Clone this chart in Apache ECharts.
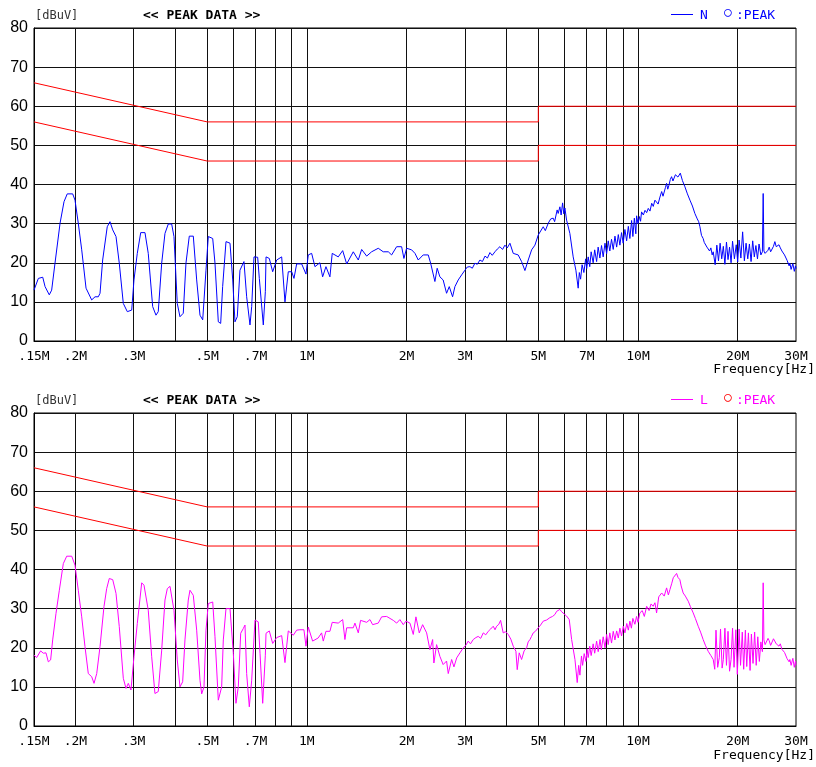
<!DOCTYPE html>
<html><head><meta charset="utf-8">
<script src="https://cdn.jsdelivr.net/npm/echarts@6/dist/echarts.min.js"></script>
<style>html,body{margin:0;padding:0;background:#fff}#c{width:816px;height:767px}</style>
</head><body><div id="c"></div>
<script>
// grid line frequencies (MHz) and labelled ticks
const gridFreqs = [0.2,0.3,0.4,0.5,0.6,0.7,0.8,0.9,1,2,3,4,5,6,7,8,9,10,20];
const tickFreqs = [0.15,0.2,0.3,0.5,0.7,1,2,3,5,7,10,20,30];
const yTicks = [0,10,20,30,40,50,60,70,80];
// limit lines
const limFreq = [0.15,0.5,5,5,30];
const qpLevel = [66,56,56,60,60];
const avLevel = [56,46,46,50,50];

// N trace [MHz, dBuV]
const nTrace = [[0.150,13.0],[0.1546,16.0],[0.1594,16.3],[0.162,13.9],[0.1668,11.8],[0.1696,13.0],[0.1736,19.9],[0.1798,30.1],[0.1848,35.6],[0.189,37.6],[0.1963,37.6],[0.1995,36.0],[0.2041,30.1],[0.209,23.3],[0.2154,13.5],[0.224,10.5],[0.2293,11.3],[0.2346,11.3],[0.2374,12.2],[0.2418,20.7],[0.2496,29.2],[0.2544,30.5],[0.2593,28.4],[0.2653,26.7],[0.2714,19.9],[0.2791,9.6],[0.287,7.5],[0.2959,7.9],[0.3006,15.6],[0.3076,22.4],[0.315,27.7],[0.3245,27.7],[0.332,22.4],[0.3423,8.8],[0.3503,6.6],[0.3559,7.5],[0.3645,19.9],[0.3729,27.5],[0.3816,29.9],[0.3907,29.9],[0.397,26.7],[0.4062,9.6],[0.4139,6.2],[0.4235,7.1],[0.4315,19.9],[0.4416,26.8],[0.4541,26.8],[0.4649,15.6],[0.4757,6.6],[0.4848,5.4],[0.496,18.1],[0.504,26.7],[0.5197,26.2],[0.528,19.9],[0.5403,4.9],[0.5493,4.5],[0.5569,13.9],[0.570,25.4],[0.5861,25.0],[0.5973,15.6],[0.6067,4.9],[0.6165,6.2],[0.6282,18.1],[0.6458,20.3],[0.6581,11.3],[0.6735,4.1],[0.6815,8.8],[0.6925,21.5],[0.7105,21.4],[0.7186,16.0],[0.7256,15.6],[0.7388,4.1],[0.7493,12.6],[0.7529,21.5],[0.7703,21.1],[0.7886,17.7],[0.8109,20.7],[0.8395,21.5],[0.859,10.0],[0.879,17.7],[0.9,17.7],[0.9144,16.0],[0.9317,19.7],[0.9647,19.7],[0.994,17.1],[1.01,22.0],[1.034,22.4],[1.058,19.0],[1.095,20.0],[1.116,16.4],[1.142,19.0],[1.174,16.4],[1.193,22.4],[1.244,21.5],[1.283,23.1],[1.319,19.7],[1.381,22.8],[1.43,20.7],[1.464,23.4],[1.516,21.7],[1.569,22.8],[1.643,23.7],[1.701,22.8],[1.762,22.8],[1.803,22.0],[1.867,24.1],[1.933,24.1],[1.964,21.1],[2.001,23.7],[2.072,23.3],[2.121,22.4],[2.17,20.7],[2.246,22.0],[2.326,22.0],[2.365,19.9],[2.398,20.3],[2.436,15.2],[2.475,18.6],[2.522,16.4],[2.58,15.6],[2.642,12.2],[2.692,13.9],[2.755,11.3],[2.8,13.9],[2.865,15.6],[2.934,16.9],[3.002,18.1],[3.05,18.9],[3.108,19.0],[3.16,18.6],[3.218,19.9],[3.27,19.6],[3.332,20.7],[3.39,20.3],[3.451,21.7],[3.51,21.2],[3.572,22.6],[3.63,21.9],[3.698,22.8],[3.76,23.5],[3.828,24.1],[3.9,23.4],[3.964,24.5],[4.03,23.8],[4.104,25.0],[4.2,22.4],[4.347,22.0],[4.451,20.3],[4.556,18.0],[4.662,20.7],[4.773,23.3],[4.884,24.5],[4.998,27.1],[5.174,29.2],[5.25,28.2],[5.357,30.1],[5.45,31.2],[5.546,31.4],[5.6,30.5],[5.7,33.5],[5.741,32.6],[5.81,34.3],[5.86,32.2],[5.92,35.3],[5.97,32.5],[6.015,34.0],[6.086,30.9],[6.227,27.5],[6.372,21.5],[6.493,18.1],[6.597,13.5],[6.65,17.5],[6.709,15.8],[6.78,19.5],[6.864,17.5],[6.95,21.0],[7.0,18.5],[7.073,21.5],[7.15,19.0],[7.22,22.8],[7.322,20.0],[7.4,23.3],[7.5,20.3],[7.58,24.0],[7.672,21.2],[7.76,24.4],[7.85,21.5],[7.95,25.0],[8.04,22.3],[8.13,25.6],[8.22,23.0],[8.32,26.0],[8.418,23.4],[8.52,26.8],[8.62,24.0],[8.72,27.2],[8.818,24.5],[8.92,27.7],[9.02,25.0],[9.13,28.5],[9.24,25.6],[9.35,29.3],[9.45,26.2],[9.566,30.8],[9.65,26.7],[9.75,31.4],[9.85,27.4],[9.903,32.0],[10.0,30.0],[10.1,31.8],[10.18,30.6],[10.25,33.0],[10.38,32.2],[10.5,33.4],[10.62,32.8],[10.74,33.9],[10.87,33.2],[11.0,35.2],[11.12,34.4],[11.25,36.0],[11.38,35.6],[11.5,35.0],[11.65,36.8],[11.79,38.2],[11.9,37.0],[12.0,37.5],[12.1,39.2],[12.2,40.3],[12.3,38.8],[12.4,39.8],[12.52,41.3],[12.63,42.0],[12.75,40.9],[12.85,41.2],[12.97,42.5],[13.08,42.7],[13.2,41.9],[13.3,42.0],[13.42,42.9],[13.54,42.6],[13.62,41.0],[13.7,41.5],[13.86,39.4],[13.98,39.8],[14.1,37.6],[14.22,37.9],[14.35,36.0],[14.48,35.8],[14.6,34.5],[14.72,34.8],[14.85,32.6],[14.98,33.0],[15.1,31.2],[15.25,30.5],[15.38,29.2],[15.48,29.0],[15.55,27.0],[15.65,27.2],[15.73,26.2],[15.85,25.2],[16.0,25.0],[16.15,24.0],[16.29,24.5],[16.45,23.0],[16.6,23.8],[16.75,22.0],[16.87,22.8],[17.1,19.5],[17.3,24.5],[17.5,20.5],[17.7,25.0],[17.9,21.0],[18.1,24.2],[18.3,19.6],[18.5,25.3],[18.7,20.8],[18.9,24.0],[19.1,20.0],[19.3,25.5],[19.55,21.0],[19.8,24.6],[20.0,20.2],[20.2,25.8],[20.45,21.2],[20.7,27.9],[20.95,20.5],[21.2,25.0],[21.45,21.0],[21.7,24.8],[21.95,20.3],[22.2,25.6],[22.45,21.5],[22.7,24.4],[22.95,21.0],[23.2,24.8],[23.5,22.0],[23.75,22.8],[23.88,37.7],[24.0,23.0],[24.2,22.4],[24.45,22.0],[24.7,23.2],[24.9,24.0],[25.15,22.8],[25.4,23.2],[25.65,24.2],[25.9,25.4],[26.15,24.1],[26.4,24.0],[26.65,24.6],[26.9,23.8],[27.2,23.0],[27.45,23.3],[27.7,22.0],[28.0,21.5],[28.2,20.6],[28.4,20.2],[28.6,19.2],[28.75,19.9],[29.0,18.3],[29.2,18.5],[29.35,19.8],[29.5,19.5],[29.65,17.8],[29.77,18.1],[29.9,19.2],[30.0,18.5]];

// L trace [MHz, dBuV]
const lTrace = [[0.150,18.1],[0.1528,17.5],[0.1571,19.2],[0.1600,18.6],[0.1630,18.7],[0.1657,16.4],[0.1684,16.9],[0.1708,22.0],[0.1748,28.8],[0.1789,34.7],[0.1839,41.5],[0.1883,43.4],[0.195,43.4],[0.1995,41.1],[0.2041,34.7],[0.209,27.9],[0.2138,20.3],[0.2188,13.4],[0.224,12.6],[0.2277,10.9],[0.2320,13.4],[0.2374,20.3],[0.2440,30.5],[0.2486,35.1],[0.2532,37.7],[0.2593,37.4],[0.2653,33.9],[0.2714,25.4],[0.2791,12.2],[0.2844,9.6],[0.2890,10.9],[0.2944,9.2],[0.3006,17.7],[0.3076,26.2],[0.3172,36.6],[0.3223,36.0],[0.3268,36.4],[0.332,29.6],[0.3400,17.7],[0.3478,8.3],[0.3559,8.8],[0.3645,19.4],[0.3729,32.2],[0.3790,35.1],[0.3861,35.7],[0.3907,36.0],[0.397,29.6],[0.4062,16.9],[0.4139,10.0],[0.4217,11.3],[0.4285,22.0],[0.4385,32.2],[0.4437,34.7],[0.4541,33.4],[0.4649,24.5],[0.4757,11.7],[0.4813,8.2],[0.4891,10.0],[0.496,24.5],[0.504,31.3],[0.5197,31.7],[0.528,22.8],[0.5403,6.6],[0.5531,10.0],[0.5594,22.0],[0.570,30.0],[0.5861,30.0],[0.5998,18.6],[0.6109,5.8],[0.6209,10.0],[0.6313,23.7],[0.6427,24.9],[0.6505,25.8],[0.6581,13.4],[0.6703,4.9],[0.6815,11.7],[0.6973,27.1],[0.7135,26.6],[0.7221,18.6],[0.7357,5.8],[0.7493,18.1],[0.7529,23.7],[0.7703,24.3],[0.7886,21.1],[0.8109,22.6],[0.8395,23.1],[0.859,16.2],[0.879,24.3],[0.9101,23.2],[0.9317,24.5],[0.953,24.6],[0.980,24.6],[0.994,20.4],[1.01,25.3],[1.041,21.7],[1.082,22.5],[1.108,23.8],[1.121,21.7],[1.142,24.2],[1.174,24.2],[1.193,26.5],[1.244,26.3],[1.283,27.2],[1.303,22.1],[1.319,25.1],[1.381,25.1],[1.397,26.3],[1.43,23.8],[1.453,27.0],[1.516,26.5],[1.551,27.2],[1.58,25.9],[1.643,26.3],[1.682,27.9],[1.742,28.0],[1.824,27.0],[1.867,26.3],[1.910,27.2],[1.955,25.9],[1.992,26.8],[2.048,26.3],[2.096,23.4],[2.135,27.9],[2.185,23.8],[2.237,25.9],[2.300,23.8],[2.353,19.5],[2.398,22.1],[2.419,16.1],[2.465,20.8],[2.522,17.8],[2.58,15.7],[2.642,16.6],[2.673,13.4],[2.737,17.0],[2.781,15.1],[2.834,17.4],[2.900,18.7],[2.967,20.0],[3.02,20.6],[3.071,21.7],[3.12,21.0],[3.180,22.1],[3.24,22.6],[3.292,22.9],[3.35,22.4],[3.410,23.8],[3.47,23.3],[3.530,24.2],[3.59,24.8],[3.655,25.5],[3.7,24.6],[3.742,25.5],[3.8,26.0],[3.847,27.0],[3.917,23.8],[3.98,24.1],[4.056,23.4],[4.13,22.2],[4.2,20.4],[4.279,19.1],[4.318,14.4],[4.378,18.7],[4.451,17.0],[4.53,19.2],[4.610,20.0],[4.66,21.5],[4.718,22.1],[4.77,22.9],[4.827,23.8],[4.9,24.2],[4.998,25.1],[5.08,25.8],[5.174,26.8],[5.3,27.1],[5.420,27.7],[5.52,28.0],[5.612,28.5],[5.678,29.3],[5.75,29.0],[5.81,29.8],[5.88,29.2],[5.946,28.9],[6.086,28.1],[6.2,27.2],[6.304,22.1],[6.451,17.0],[6.554,11.1],[6.62,15.5],[6.677,13.0],[6.75,17.9],[6.804,15.5],[6.88,18.5],[6.962,16.5],[7.02,19.6],[7.073,17.5],[7.15,20.4],[7.22,18.0],[7.322,21.0],[7.4,18.6],[7.5,21.7],[7.582,19.0],[7.68,22.1],[7.75,19.5],[7.851,22.8],[7.95,20.0],[8.04,23.4],[8.128,20.8],[8.22,23.8],[8.32,21.2],[8.42,24.2],[8.518,22.0],[8.62,24.3],[8.718,22.5],[8.818,25.0],[8.92,23.0],[9.03,25.5],[9.13,23.8],[9.25,26.2],[9.35,24.5],[9.452,26.8],[9.55,25.0],[9.65,27.5],[9.786,26.0],[9.9,28.0],[10.0,26.5],[10.13,28.9],[10.3,29.5],[10.45,28.0],[10.62,30.6],[10.8,29.5],[10.95,31.2],[11.11,30.6],[11.25,31.5],[11.38,28.9],[11.55,33.0],[11.79,34.0],[12.0,33.2],[12.2,35.3],[12.35,33.5],[12.49,34.9],[12.65,36.5],[12.78,37.9],[12.95,38.2],[13.08,39.0],[13.2,38.0],[13.38,37.4],[13.5,35.8],[13.69,34.0],[13.9,33.2],[14.18,31.9],[14.4,30.5],[14.68,28.9],[14.9,27.5],[15.2,25.5],[15.45,24.0],[15.73,22.1],[16.0,20.5],[16.29,19.1],[16.6,18.0],[16.87,17.0],[17.05,14.5],[17.2,24.5],[17.4,15.0],[17.6,17.5],[17.75,24.8],[17.95,14.8],[18.1,17.0],[18.3,25.0],[18.5,15.5],[18.7,24.2],[18.9,14.0],[19.1,17.0],[19.3,25.0],[19.5,15.0],[19.75,24.6],[19.95,13.2],[20.2,24.8],[20.4,15.5],[20.65,24.0],[20.85,14.5],[21.1,24.5],[21.3,15.2],[21.55,23.8],[21.8,14.2],[22.0,23.5],[22.25,16.0],[22.5,24.0],[22.75,15.5],[23.0,22.8],[23.25,16.5],[23.5,21.5],[23.75,19.0],[23.88,36.6],[24.0,22.0],[24.2,20.8],[24.45,21.3],[24.7,22.4],[24.9,21.8],[25.15,20.6],[25.4,21.0],[25.65,22.3],[25.9,22.1],[26.15,21.0],[26.4,21.5],[26.65,20.4],[26.9,21.0],[27.2,19.6],[27.45,20.0],[27.7,18.8],[28.0,18.5],[28.2,17.2],[28.4,17.5],[28.6,16.4],[28.75,17.0],[29.0,15.5],[29.2,15.8],[29.35,17.3],[29.5,17.0],[29.65,15.0],[29.77,15.3],[29.9,16.6],[30.0,15.5]];

const chart = echarts.init(document.getElementById('c'), null, {renderer:'canvas'});
const MONO = "'DejaVu Sans Mono', monospace";
function fmtFreq(v){
  const r = Math.round(v*100)/100;
  if (r < 1) return String(r).replace(/^0/, '') + 'M';
  return r + 'M';
}
function xAxisCfg(i){
  return {
    type:'log', logBase:10, gridIndex:i, min:0.15, max:30,
    axisLine:{show:true, lineStyle:{color:'#000', width:1}},
    axisTick:{show:false, customValues:gridFreqs.slice()},
    minorTick:{show:false}, minorSplitLine:{show:false},
    axisLabel:{customValues:tickFreqs.slice(), formatter:fmtFreq, color:'#000', fontFamily:MONO, fontSize:13, margin:9},
    splitLine:{show:true, lineStyle:{color:'#111', width:1}}
  };
}
function yAxisCfg(i){
  return {
    type:'value', gridIndex:i, min:0, max:80, interval:10,
    axisLine:{show:true, lineStyle:{color:'#000'}},
    axisTick:{show:false},
    axisLabel:{color:'#000', fontFamily:"'Liberation Sans', Arial, sans-serif", fontSize:16, margin:6},
    splitLine:{show:true, lineStyle:{color:'#111', width:1}}
  };
}
function limitData(levels){ return limFreq.map((f,k)=>[f, levels[k]]); }
function limitSeries(i, levels, nm){
  return {type:'line', name:nm, xAxisIndex:i, yAxisIndex:i, data:limitData(levels), symbol:'none', silent:true,
    lineStyle:{color:'#ff0000', width:1}, z:5, zlevel:1};
}
function textEl(x, y, s, opts){
  return Object.assign({type:'text', x:x, y:y, silent:true,
    style:Object.assign({text:s, fill:'#000', font:'13px '+MONO, textVerticalAlign:'middle'}, opts||{})});
}
function headerEls(y0, color, name, circleColor){
  return [
    textEl(35, y0, '[dBuV]', {fill:'#333', font:'12px '+MONO}),
    textEl(143, y0, '<< PEAK DATA >>', {font:'bold 13px '+MONO}),
    {type:'line', silent:true, shape:{x1:671, y1:y0-1.5, x2:693, y2:y0-1.5}, style:{stroke:color, lineWidth:1}},
    textEl(700, y0, name, {fill:color, font:'13px '+MONO}),
    textEl(724, y0-3, '○', {fill:circleColor, font:'13px '+MONO}),
    textEl(736, y0, ':PEAK', {fill:color, font:'13px '+MONO})
  ];
}
const option = {
  animation:false,
  backgroundColor:'#fff',
  grid:[
    {left:34, top:28, width:762, height:313, show:true, borderColor:'#000', borderWidth:1, backgroundColor:'transparent'},
    {left:34, top:413, width:762, height:313, show:true, borderColor:'#000', borderWidth:1, backgroundColor:'transparent'}
  ],
  xAxis:[xAxisCfg(0), xAxisCfg(1)],
  yAxis:[yAxisCfg(0), yAxisCfg(1)],
  series:[
    limitSeries(0, qpLevel, 'qpN'), limitSeries(0, avLevel, 'avN'),
    {type:'line', name:'N', xAxisIndex:0, yAxisIndex:0, data:nTrace, symbol:'none', silent:true,
      lineStyle:{color:'#0000ff', width:1}, z:4, zlevel:1},
    limitSeries(1, qpLevel, 'qpL'), limitSeries(1, avLevel, 'avL'),
    {type:'line', name:'L', xAxisIndex:1, yAxisIndex:1, data:lTrace, symbol:'none', silent:true,
      lineStyle:{color:'#ff00ff', width:1}, z:4, zlevel:1}
  ],
  graphic:[].concat(
    headerEls(16, '#0000ff', 'N', '#0000ff'),
    headerEls(401, '#ff00ff', 'L', '#ff0000'),
    [ textEl(815, 370, 'Frequency[Hz]', {textAlign:'right'}),
      textEl(815, 756, 'Frequency[Hz]', {textAlign:'right'}) ]
  )
};
chart.setOption(option);
</script></body></html>
